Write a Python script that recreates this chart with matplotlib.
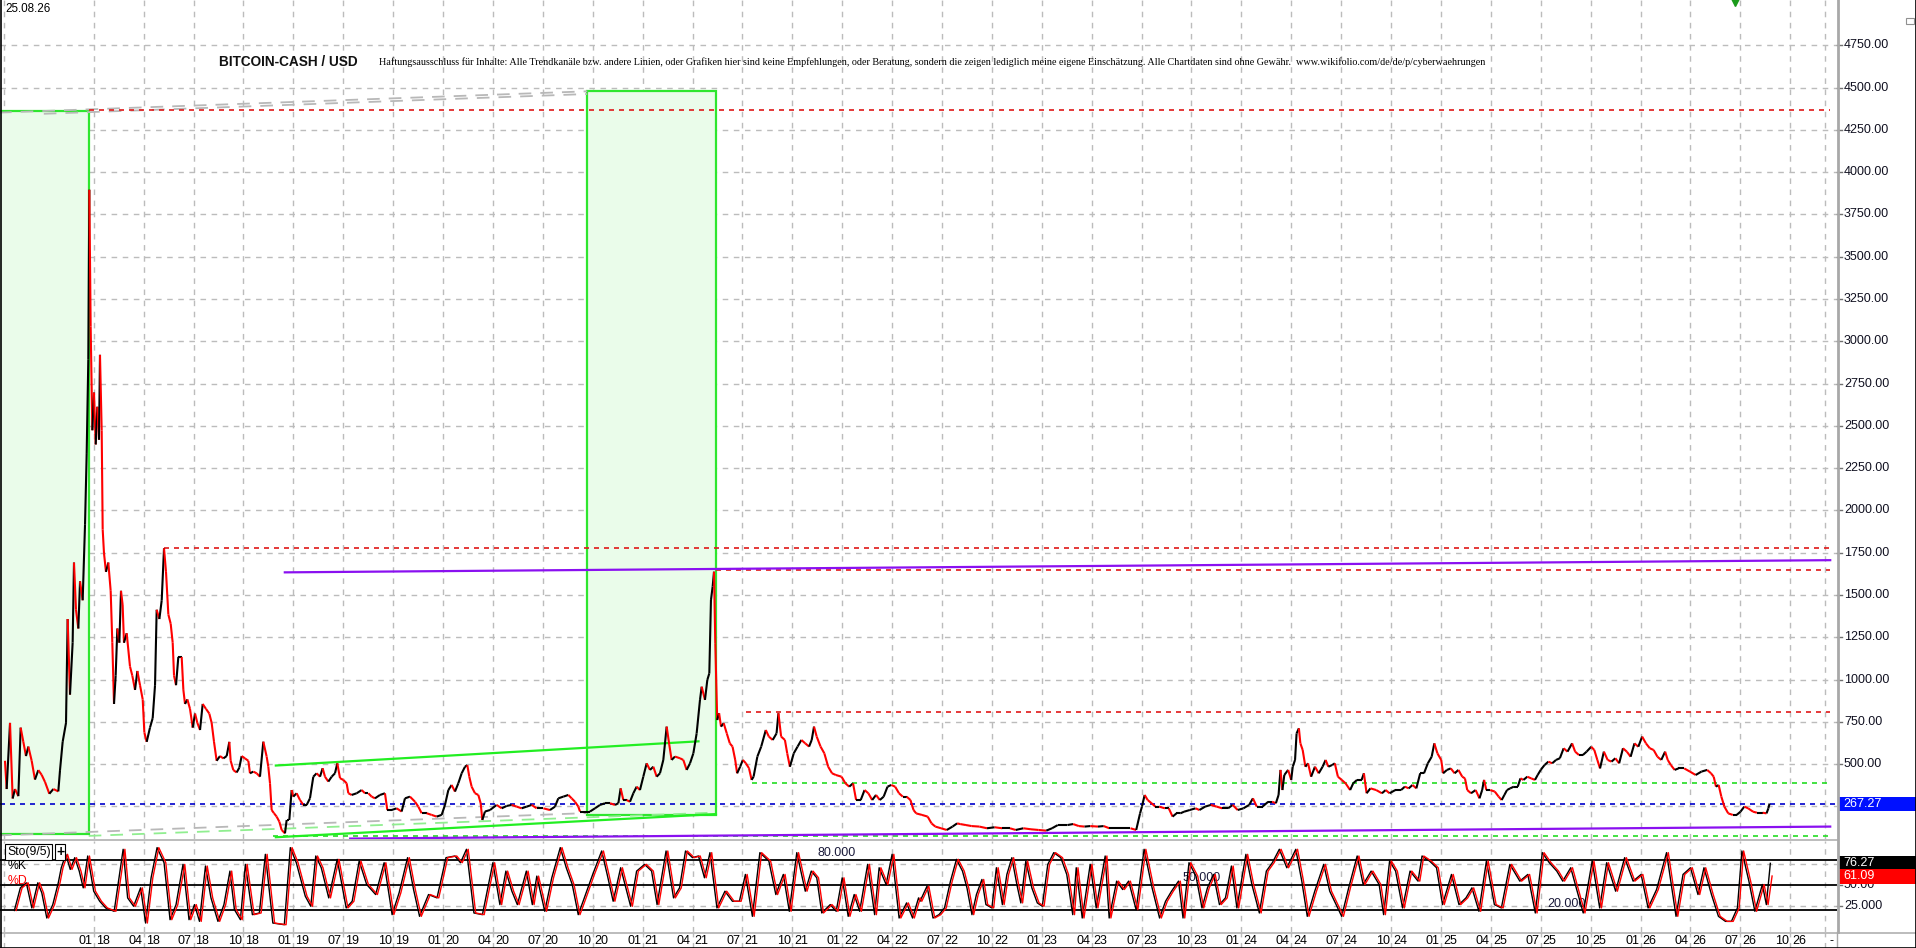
import numpy as np
import matplotlib
matplotlib.use("Agg")
import matplotlib.pyplot as plt
from matplotlib.collections import LineCollection
from matplotlib.patches import Rectangle
from matplotlib import font_manager
import matplotlib.transforms as mtransforms

plt.rcParams['font.family'] = ['Liberation Sans', 'DejaVu Sans']

# ======================= DATA =======================
# x unit: quarter-tick index (0 = "01 18"); the chart skips "04 19"
quarter_labels = ["01 18", "04 18", "07 18", "10 18", "01 19", "07 19", "10 19",
                  "01 20", "04 20", "07 20", "10 20", "01 21", "04 21", "07 21",
                  "10 21", "01 22", "04 22", "07 22", "10 22", "01 23", "04 23",
                  "07 23", "10 23", "01 24", "04 24", "07 24", "10 24", "01 25",
                  "04 25", "07 25", "10 25", "01 26", "04 26", "07 26", "10 26"]
extra_grid_t = [-1.8, 34.7]

price_t = [-1.778, -1.744, -1.677, -1.624, -1.577, -1.510, -1.464, -1.410, -1.357, -1.310,
           -1.243, -1.177, -1.110, -1.043, -0.976, -0.889, -0.809, -0.709, -0.675, -0.622,
           -0.555, -0.522, -0.475, -0.422, -0.395, -0.355, -0.308, -0.274, -0.221, -0.174,
           -0.141, -0.108, -0.088, -0.061, -0.027, 0.006, 0.040, 0.073, 0.106, 0.126,
           0.160, 0.180, 0.206, 0.246, 0.293, 0.340, 0.373, 0.407, 0.440, 0.474,
           0.514, 0.547, 0.580, 0.607, 0.661, 0.727, 0.774, 0.828, 0.875, 0.928,
           0.982, 1.015, 1.062, 1.128, 1.182, 1.229, 1.262, 1.316, 1.363, 1.409,
           1.449, 1.496, 1.543, 1.583, 1.610, 1.650, 1.696, 1.763, 1.797, 1.830,
           1.877, 1.930, 1.984, 2.031, 2.077, 2.131, 2.184, 2.250, 2.317, 2.364,
           2.411, 2.464, 2.531, 2.598, 2.665, 2.718, 2.745, 2.798, 2.865, 2.918,
           2.965, 3.032, 3.099,
           3.132, 3.199, 3.266, 3.332, 3.399, 3.466, 3.499, 3.533, 3.566, 3.613,
           3.666, 3.720, 3.767, 3.833, 3.867, 3.920, 3.967, 4.000, 4.067, 4.134,
           4.201, 4.268, 4.334, 4.401, 4.468, 4.535, 4.588, 4.635, 4.702, 4.769,
           4.835, 4.882, 4.936, 5.002, 5.069, 5.103, 5.169, 5.270, 5.370, 5.437,
           5.503, 5.570, 5.637, 5.737, 5.837, 5.884, 5.971, 6.071, 6.171, 6.238,
           6.338, 6.439, 6.505, 6.572, 6.672, 6.773, 6.873, 6.973, 7.040, 7.107,
           7.173, 7.240, 7.307, 7.374, 7.441, 7.487, 7.527, 7.574, 7.641, 7.708,
           7.755, 7.788, 7.841, 7.942, 8.075, 8.176, 8.276, 8.376, 8.476, 8.576,
           8.677, 8.777, 8.877, 9.011, 9.144, 9.244, 9.311, 9.411, 9.512, 9.578,
           9.645, 9.712, 9.745, 9.845, 9.946, 10.046, 10.146, 10.246, 10.346, 10.447,
           10.514, 10.560, 10.614, 10.680, 10.747, 10.814, 10.881, 10.947, 11.014, 11.081,
           11.148, 11.215, 11.282, 11.348, 11.415, 11.482, 11.535, 11.582, 11.649, 11.749,
           11.816, 11.883, 11.950, 12.017, 12.083, 12.150, 12.184, 12.250, 12.297, 12.337,
           12.370, 12.404, 12.431, 12.457,
           12.495, 12.533, 12.572, 12.625, 12.687, 12.748, 12.802, 12.856, 12.894, 12.955,
           13.009, 13.070, 13.132, 13.185, 13.224, 13.300, 13.377, 13.469, 13.530, 13.607,
           13.684, 13.722, 13.776, 13.852, 13.898, 13.952, 14.029, 14.106, 14.182, 14.259,
           14.336, 14.389, 14.435, 14.489, 14.566, 14.642, 14.719, 14.796, 14.872, 14.987,
           15.064, 15.141, 15.217, 15.279, 15.371, 15.448, 15.524, 15.601, 15.678, 15.754,
           15.831, 15.908, 15.984, 16.061, 16.138, 16.214, 16.291, 16.368, 16.429, 16.483,
           16.598, 16.713, 16.790, 16.866, 16.981, 17.096, 17.211, 17.303, 17.365, 17.480,
           17.595, 17.748, 17.902, 18.055, 18.208, 18.362, 18.477, 18.630, 18.783, 18.937,
           19.090, 19.205, 19.320, 19.512, 19.627, 19.742, 19.857, 19.972, 20.126, 20.240,
           20.355, 20.509, 20.662, 20.777, 20.892, 20.969, 21.007, 21.061, 21.122, 21.199,
           21.276, 21.352, 21.467, 21.544, 21.621, 21.698, 21.774, 21.851, 21.966, 22.081,
           22.158, 22.273, 22.388, 22.503, 22.618, 22.733, 22.825, 22.925, 23.040, 23.155,
           23.231, 23.308, 23.423, 23.538, 23.615, 23.691,
           23.745, 23.783, 23.822, 23.860, 23.937, 23.998, 24.029, 24.075, 24.106, 24.152,
           24.182, 24.228, 24.282, 24.336, 24.397, 24.474, 24.550, 24.627, 24.688, 24.742,
           24.819, 24.872, 24.934, 25.010, 25.087, 25.179, 25.241, 25.317, 25.409, 25.455,
           25.509, 25.586, 25.701, 25.816, 25.892, 25.969, 26.084, 26.199, 26.276, 26.353,
           26.429, 26.506, 26.583, 26.659, 26.736, 26.813, 26.866, 26.928, 27.004, 27.043,
           27.119, 27.196, 27.273, 27.349, 27.426, 27.480, 27.526, 27.602, 27.694, 27.771,
           27.825, 27.863, 27.909, 27.986, 28.078, 28.155, 28.216, 28.270, 28.323, 28.385,
           28.461, 28.538, 28.592, 28.653, 28.730, 28.807, 28.883, 28.937, 28.998, 29.075,
           29.152, 29.228, 29.305, 29.382, 29.458, 29.535, 29.627, 29.688, 29.765, 29.842,
           29.918, 30.010, 30.072, 30.133, 30.187, 30.264, 30.340, 30.417, 30.494, 30.570,
           30.647, 30.724, 30.800, 30.877, 30.954, 31.031, 31.107, 31.184, 31.261, 31.337,
           31.414, 31.491, 31.544, 31.606, 31.682, 31.759, 31.874, 31.989, 32.104, 32.219,
           32.334, 32.411, 32.465, 32.511, 32.564, 32.618, 32.679, 32.756, 32.848, 32.925,
           33.001, 33.078, 33.155, 33.254, 33.331, 33.446, 33.523, 33.561, 33.584]
price_v = [520, 353, 744, 297, 353, 311, 716, 632, 548, 604,
           520, 409, 465, 437, 395, 325, 353, 339, 465, 632,
           744, 1358, 911, 1218, 1692, 1413, 1302, 1581, 1469, 1915,
           2334, 2892, 3896, 3087, 2474, 2697, 2390, 2613, 2418, 2920,
           2474, 1888, 1748, 1637, 1692, 1525, 1218, 856, 1023, 1302,
           1218, 1525, 1441, 1218, 1274, 1078, 1023, 939, 1051, 967,
           883, 688, 632, 716, 772, 967, 1413, 1358, 1469, 1776,
           1637, 1385, 1330, 1218, 1023, 967, 1134, 1134, 939, 856,
           883, 827, 716, 799, 744, 702, 856, 827, 799, 744,
           632, 520, 548, 534, 548, 632, 520, 465, 451, 479,
           548, 534, 520,
           446, 456, 446, 426, 633, 545, 485, 387, 229, 210,
           190, 160, 111, 91, 170, 170, 347, 308, 328, 288,
           259, 259, 298, 426, 446, 426, 476, 426, 397, 426,
           446, 505, 417, 407, 387, 328, 318, 328, 347, 328,
           328, 308, 298, 318, 328, 229, 229, 239, 220, 298,
           308, 278, 249, 210, 210, 200, 190, 200, 259, 347,
           377, 338, 387, 446, 485, 495, 426, 367, 328, 318,
           269, 170, 220, 229, 259, 239, 253, 259, 249, 239,
           249, 259, 239, 239, 229, 249, 298, 308, 318, 298,
           278, 249, 220, 220, 220, 239, 259, 269, 269, 259,
           269, 357, 288, 288, 278, 328, 367, 347, 426, 505,
           466, 485, 426, 446, 525, 722, 614, 525, 545, 535,
           525, 466, 505, 564, 682, 880, 958, 880, 998, 1037,
           1471, 1550, 1638, 1215,
           761, 801, 722, 742, 682, 623, 604, 525, 446, 485,
           525, 505, 476, 407, 426, 545, 604, 702, 663, 643,
           682, 801, 663, 643, 564, 485, 564, 604, 643, 623,
           604, 643, 722, 663, 604, 564, 485, 446, 436, 426,
           387, 367, 387, 288, 288, 347, 328, 288, 318, 288,
           308, 367, 377, 367, 328, 308, 308, 288, 229, 209,
           200, 190, 150, 131, 121, 111, 131, 150, 146, 140,
           134, 131, 121, 127, 121, 121, 111, 121, 115, 111,
           107, 121, 140, 140, 146, 134, 131, 134, 131, 134,
           121, 121, 121, 121, 111, 209, 249, 318, 288, 269,
           249, 249, 239, 239, 190, 209, 209, 219, 229, 239,
           229, 249, 259, 249, 239, 239, 259, 229, 239, 259,
           298, 249, 249, 278, 278, 269,
           318, 466, 347, 436, 466, 407, 485, 525, 682, 712,
           623, 584, 485, 505, 426, 485, 446, 485, 525, 485,
           495, 505, 426, 407, 387, 347, 387, 407, 407, 446,
           328, 357, 347, 328, 347, 328, 347, 347, 367, 357,
           377, 357, 446, 446, 505, 544, 623, 564, 525, 446,
           466, 475, 446, 466, 426, 416, 347, 328, 347, 298,
           347, 407, 347, 347, 338, 308, 288, 318, 347, 357,
           367, 367, 416, 407, 426, 416, 407, 436, 466, 495,
           515, 505, 525, 535, 594, 574, 623, 574, 554, 554,
           574, 603, 584, 525, 475, 574, 525, 515, 535, 505,
           594, 574, 544, 623, 603, 663, 623, 594, 584, 544,
           525, 574, 525, 495, 466, 475, 475, 456, 436, 456,
           466, 446, 426, 367, 377, 308, 249, 209, 200, 200,
           219, 249, 239, 219, 213, 213, 209, 239, 267.27]

stoch_t = [-1.59, -1.47, -1.35, -1.24, -1.12, -1.04, -0.94, -0.82, -0.71, -0.65,
           -0.56, -0.47, -0.38, -0.29, -0.21, -0.12, 0.00, 0.12, 0.24, 0.41,
           0.59, 0.68, 0.80, 0.94, 1.04, 1.15, 1.27, 1.41, 1.53, 1.65,
           1.79, 1.91, 2.02, 2.12, 2.24, 2.35, 2.49, 2.61, 2.73, 2.82,
           2.94, 3.04, 3.18, 3.32, 3.44, 3.59, 3.82, 3.94, 4.06, 4.24,
           4.35, 4.45, 4.56, 4.71, 4.88, 5.06, 5.18, 5.32, 5.47, 5.65,
           5.82, 5.98, 6.12, 6.29, 6.41, 6.53, 6.71, 6.88, 7.06, 7.24,
           7.35, 7.47, 7.62, 7.79, 8.00, 8.14, 8.26, 8.38, 8.49, 8.67,
           8.79, 8.88, 9.04, 9.18, 9.35, 9.47, 9.59, 9.71, 9.82, 10.00,
           10.18, 10.29, 10.41, 10.56, 10.76, 10.88, 11.04, 11.18, 11.29, 11.47,
           11.62, 11.74, 11.86, 12.00, 12.12, 12.24, 12.35, 12.49, 12.65, 12.80,
           12.94, 13.06, 13.20, 13.35, 13.53, 13.67, 13.82, 13.94, 14.09, 14.26,
           14.38, 14.49, 14.59, 14.76, 14.88, 15.00, 15.12, 15.24, 15.35, 15.51,
           15.65, 15.74, 15.88, 16.00, 16.14, 16.29, 16.41, 16.53,
           16.56, 16.70, 16.82, 16.94, 17.05, 17.17, 17.29, 17.41, 17.50, 17.60,
           17.69, 17.80, 17.88, 18.00, 18.09, 18.21, 18.30, 18.40, 18.50, 18.58,
           18.68, 18.80, 18.91, 19.01, 19.12, 19.24, 19.38, 19.50, 19.62, 19.69,
           19.81, 19.97, 20.09, 20.27, 20.35, 20.50, 20.62, 20.74, 20.89, 21.05,
           21.21, 21.36, 21.48, 21.60, 21.74, 21.83, 21.95, 22.09, 22.21, 22.32,
           22.44, 22.56, 22.68, 22.80, 22.91, 23.09, 23.21, 23.36, 23.50, 23.62,
           23.76, 23.91, 24.09, 24.21, 24.32, 24.47, 24.65, 24.77, 25.01, 25.15,
           25.32, 25.44, 25.60, 25.76, 25.85, 25.97, 26.09, 26.23, 26.38, 26.54,
           26.62, 26.77, 26.91, 27.03, 27.21, 27.36, 27.50, 27.62, 27.76, 27.91,
           28.07, 28.21, 28.38, 28.58, 28.74, 28.89, 29.03, 29.17, 29.32, 29.44,
           29.60, 29.71, 29.85, 30.03, 30.18, 30.32, 30.50, 30.68, 30.85, 31.01,
           31.15, 31.32, 31.52, 31.71, 31.85, 32.00, 32.15, 32.27, 32.42, 32.56,
           32.70, 32.82, 32.94, 33.03, 33.17, 33.29, 33.44, 33.52, 33.60]
stoch_k = [20, 47, 53, 23, 53, 41, 11, 27, 53, 71,
           87, 69, 83, 67, 47, 85, 43, 31, 23, 19,
           93, 35, 25, 47, 5, 59, 95, 77, 9, 27,
           75, 9, 27, 7, 73, 35, 7, 27, 67, 21,
           9, 75, 15, 17, 87, 5, 3, 95, 77, 37,
           25, 85, 71, 35, 81, 23, 31, 79, 51, 39,
           77, 15, 41, 83, 45, 13, 39, 35, 83, 85,
           77, 93, 17, 15, 77, 27, 67, 43, 27, 67,
           27, 61, 19, 59, 95, 71, 51, 15, 33, 63,
           91, 63, 31, 71, 25, 67, 75, 67, 27, 91,
           35, 47, 91, 83, 85, 59, 89, 23, 43, 31,
           31, 63, 13, 89, 79, 39, 63, 19, 89, 43,
           67, 59, 17, 27, 19, 59, 13, 39, 19, 75,
           15, 71, 51, 87, 11, 29, 11, 35,
           31, 49, 11, 15, 23, 55, 81, 67, 47, 15,
           39, 57, 27, 23, 71, 27, 63, 83, 51, 29,
           79, 47, 29, 25, 75, 89, 83, 63, 15, 71,
           11, 75, 23, 85, 11, 55, 45, 55, 21, 93,
           47, 11, 31, 43, 55, 11, 77, 61, 23, 47,
           63, 27, 35, 73, 23, 87, 51, 17, 67, 77,
           93, 71, 93, 55, 13, 43, 75, 43, 13, 47,
           85, 51, 67, 51, 15, 79, 67, 23, 67, 55,
           85, 79, 71, 27, 63, 27, 35, 47, 19, 79,
           27, 23, 75, 55, 63, 17, 89, 77, 67, 55,
           71, 47, 17, 79, 23, 77, 43, 83, 55, 63,
           23, 45, 89, 13, 63, 71, 39, 71, 39, 13,
           7, 7, 23, 91, 55, 19, 51, 27, 76.27]
# %D tracks %K with a short lag; its last reading is 61.09
last_k = 76.27
last_d = 61.09
stoch_d = stoch_k[:-1] + [last_d]
D_LAG = 0.035

last_price = 267.27
price_ticks = [500, 750, 1000, 1250, 1500, 1750, 2000, 2250, 2500, 2750, 3000,
               3250, 3500, 3750, 4000, 4250, 4500, 4750]
price_grid = [250] + price_ticks

# drawn studies (trend lines, levels, boxes) in (t, price)
red_level_start = [-0.09, 1.40, 12.47, 13.07]
red_level_value = [4365, 1780, 1648, 810]
green_level_start = [13.19, 3.60]
green_level_value = [387, 74]
purple_t = [[3.83, 34.8], [5.14, 34.8]]
purple_v = [[1634, 1706], [60, 131]]
channel_t = [[3.65, 12.12], [3.65, 12.47]]
channel_v = [[492, 635], [68, 205]]
gray_trend_t = [[-1.9, 9.89], [-1.0, 9.89], [-1.9, 9.89]]
gray_trend_v = [[4352, 4478], [4345, 4462], [79, 211]]
lightgreen_trend_t = [[-0.1, 12.3]]
lightgreen_trend_v = [[76, 212]]
box_t0 = [-2.2, 9.89]
box_t1 = [-0.10, 12.47]
box_v0 = [88, 198]
box_v1 = [4360, 4478]
LEVEL_END = 34.8

stoch_lines = [20, 50, 80]
stoch_grid = [25, 75]

# ======================= LAYOUT =======================
W, H, DPI = 1916, 948, 100
PX0, PXQ = 93.7, 49.9          # pixel of tick 0 and pixels per quarter
AXR = 1837
T0 = (0 - PX0) / PXQ
T1 = (AXR - PX0) / PXQ
YMIN, YMAX = 57.6, 5017.8
SMIN, SMAX = -5.7, 102.9
FS = 9.0

fig = plt.figure(figsize=(W / DPI, H / DPI), dpi=DPI)
fig.patch.set_facecolor('white')

def fx(px):
    return px / W

def fy(py):
    return 1 - py / H

ax = fig.add_axes([0, fy(839), fx(AXR), fy(0) - fy(839)])
axs = fig.add_axes([0, fy(932), fx(AXR), fy(841) - fy(932)])
axl = fig.add_axes([0, 0, fx(AXR), fy(933)])

for a in (ax, axs, axl):
    a.set_xlim(T0, T1)
    a.set_xticks([])
    a.set_yticks([])
    for s in a.spines.values():
        s.set_visible(False)
    a.patch.set_alpha(0)
ax.set_ylim(YMIN, YMAX)
axs.set_ylim(SMIN, SMAX)
axl.set_ylim(0, 1)

GRID = '#bcbcbc'
grid_t = [extra_grid_t[0]] + list(range(len(quarter_labels))) + [extra_grid_t[1]]
for a in (ax, axs):
    for t in grid_t:
        a.axvline(t, color=GRID, lw=1.0, ls=(0, (4, 4)), zorder=0)
for v in price_grid:
    ax.axhline(v, color=GRID, lw=1.0, ls=(0, (4, 4)), zorder=0)

# boxes
for t0, t1, v0, v1 in zip(box_t0, box_t1, box_v0, box_v1):
    ax.add_patch(Rectangle((t0, v0), t1 - t0, v1 - v0, facecolor='#eafcea',
                           edgecolor='#2ee62e', lw=1.6, zorder=1))

# gray / light green dashed trend lines
for tt, vv in zip(gray_trend_t, gray_trend_v):
    ax.plot(tt, vv, color='#b8b8b8', lw=1.3, ls=(0, (7, 5)), zorder=2)
for tt, vv in zip(lightgreen_trend_t, lightgreen_trend_v):
    ax.plot(tt, vv, color='#90ee90', lw=1.3, ls=(0, (7, 5)), zorder=2)

# horizontal levels
for t0, v in zip(red_level_start, red_level_value):
    ax.plot([t0, LEVEL_END], [v, v], color='#e01818', lw=1.2, ls=(0, (3, 3)), zorder=3)
for t0, v in zip(green_level_start, green_level_value):
    ax.plot([t0, LEVEL_END], [v, v], color='#22dd22', lw=1.2, ls=(0, (3, 3)), zorder=3)
ax.plot([T0, T1], [last_price, last_price], color='#0000cc', lw=1.2, ls=(0, (3, 3)), zorder=3)

# channels
for tt, vv in zip(channel_t, channel_v):
    ax.plot(tt, vv, color='#22ee22', lw=1.6, zorder=3)
for tt, vv in zip(purple_t, purple_v):
    ax.plot(tt, vv, color='#8a10f0', lw=1.6, zorder=3)

# price line (black up, red down)
pt = np.array(price_t)
pv = np.array(price_v, dtype=float)
segs = np.stack([np.column_stack([pt[:-1], pv[:-1]]), np.column_stack([pt[1:], pv[1:]])], axis=1)
cols = ['#ff0000' if b < a else '#000000' for a, b in zip(pv[:-1], pv[1:])]
ax.add_collection(LineCollection(segs, colors=cols, linewidths=1.5, zorder=5))

# stochastic
for v in stoch_grid:
    axs.axhline(v, color=GRID, lw=1.0, ls=(0, (4, 4)), zorder=0)
for v in stoch_lines:
    axs.axhline(v, color='black', lw=1.3, zorder=1)
axs.plot(stoch_t, stoch_k, color='black', lw=1.0, zorder=3)
axs.plot(np.array(stoch_t) + D_LAG, stoch_d, color='#ff0000', lw=1.0, zorder=4)
LBLC = '#1a1a3a'
axs.text(14.50, 81.5, '80.000', fontsize=FS, color=LBLC, va='bottom', ha='left', zorder=2)
axs.text(21.81, 51.5, '50.000', fontsize=FS, color=LBLC, va='bottom', ha='left', zorder=2)
axs.text(29.14, 21.0, '20.000', fontsize=FS, color=LBLC, va='bottom', ha='left', zorder=2)

# panel separators / frame (figure pixel coordinates)
def fline(x0, y0, x1, y1, color, lw):
    fig.add_artist(plt.Line2D([fx(x0), fx(x1)], [fy(y0), fy(y1)], color=color, lw=lw,
                              transform=fig.transFigure))

fline(0, 839.5, AXR, 839.5, '#b0b0b0', 1.2)
fline(0, 932.5, 1916, 932.5, '#b0b0b0', 1.2)
fline(AXR + 1, 0, AXR + 1, 932, '#a8a8a8', 2.0)
fline(AXR, 932, AXR, 948, '#a8a8a8', 1.0)
fline(0.5, 0, 0.5, 948, 'black', 1.2)
fline(1915.5, 0, 1915.5, 948, 'black', 1.2)
fline(0, 947.5, 1916, 947.5, 'black', 1.2)

# right price axis
ytr = mtransforms.blended_transform_factory(ax.transAxes, ax.transData)
for v in price_ticks:
    ax.plot([1.0, 1.0 + 5 / AXR], [v, v], color='#707070', lw=1, transform=ytr, clip_on=False)
    ax.text(1.0 + 7 / AXR, v, f'{v:.2f}', transform=ytr, fontsize=FS, color='#101020',
            va='center', ha='left', clip_on=False)
PXP = (YMAX - YMIN) / 839.0
ax.add_patch(Rectangle((1.0 + 1 / AXR, last_price - 7 * PXP), 78 / AXR, 14 * PXP,
                       transform=ytr, facecolor='#0010ff', edgecolor='none', clip_on=False))
ax.text(1.0 + 6 / AXR, last_price, f'{last_price:.2f}', transform=ytr, fontsize=FS,
        color='white', va='center', ha='left', clip_on=False)

# right stoch axis
str_ = mtransforms.blended_transform_factory(axs.transAxes, axs.transData)
SPX = (SMAX - SMIN) / 91.0
for v, s in ((25, '25.000'), (50, '50.00')):
    axs.plot([1.0, 1.0 + 5 / AXR], [v, v], color='#707070', lw=1, transform=str_, clip_on=False)
    axs.text(1.0 + 7 / AXR, v, s, transform=str_, fontsize=FS, color='#101020',
             va='center', ha='left', clip_on=False)
for v, fc in ((last_k, 'black'), (last_d, '#ff0000')):
    axs.add_patch(Rectangle((1.0 + 1 / AXR, v - 7.5 * SPX), 78 / AXR, 15 * SPX, transform=str_,
                            facecolor=fc, edgecolor='none', clip_on=False, zorder=6))
    axs.text(1.0 + 6 / AXR, v, f'{v:.2f}', transform=str_, fontsize=FS, color='white',
             va='center', ha='left', clip_on=False, zorder=7)

# x labels
for i, lab in enumerate(quarter_labels):
    m, y = lab.split()
    axl.text(i - 1.5 / PXQ, 0.45, m, fontsize=FS, ha='right', va='center', color='black')
    axl.text(i + 2.0 / PXQ, 0.45, y, fontsize=FS, ha='left', va='center', color='black')
for t in grid_t:
    axl.axvline(t, color=GRID, lw=1.0, ls=(0, (4, 4)))
fig.text(fx(1829), fy(941), '-', fontsize=FS, ha='left', va='center')

# header texts
renderer = fig.canvas.get_renderer()

def fit(txt, width_px):
    bb = txt.get_window_extent(renderer=renderer)
    txt.set_fontsize(txt.get_fontsize() * width_px / bb.width)

t_date = fig.text(fx(5), fy(9), '25.08.26', fontsize=9, ha='left', va='center', color='black')
fit(t_date, 45)
t_title = fig.text(fx(219), fy(62), 'BITCOIN-CASH / USD', fontsize=10, fontweight='bold',
                   ha='left', va='center', color='#111111')
fit(t_title, 139)
names = {f.name for f in font_manager.fontManager.ttflist}
disc_font = 'Liberation Sans Narrow' if 'Liberation Sans Narrow' in names else 'Liberation Serif'
disclaimer = ("Haftungsausschluss für Inhalte: Alle Trendkanäle bzw. andere Linien, oder Grafiken "
              "hier sind keine Empfehlungen, oder Beratung, sondern die zeigen lediglich meine "
              "eigene Einschätzung. Alle Chartdaten sind ohne Gewähr.  "
              "www.wikifolio.com/de/de/p/cyberwaehrungen")
t_disc = fig.text(fx(379), fy(62), disclaimer, fontsize=8, family=[disc_font, 'DejaVu Sans'],
                  ha='left', va='center', color='black')
fit(t_disc, 1102)

# stoch legend
fig.text(fx(7), fy(852), 'Sto(9/5)', fontsize=8.8, ha='left', va='center', color='black',
         bbox=dict(boxstyle='square,pad=0.15', fc='white', ec='black', lw=0.8))
fig.text(fx(56), fy(852), '+', fontsize=10, fontweight='bold', ha='left', va='center',
         color='black', bbox=dict(boxstyle='square,pad=0.05', fc='white', ec='black', lw=0.8))
fig.text(fx(8), fy(866), '%K', fontsize=8.8, ha='left', va='center', color='black')
fig.text(fx(8), fy(881), '%D', fontsize=8.8, ha='left', va='center', color='#ff0000')

# small top markers
fig.add_artist(plt.Line2D([fx(1735)], [fy(2)], marker='v', markersize=6, color='#1a9a1a',
                          transform=fig.transFigure))
fig.add_artist(Rectangle((fx(1906), fy(24)), fx(8), fy(18) - fy(24), transform=fig.transFigure,
                         facecolor='white', edgecolor='#909090', lw=0.8))

fig.savefig('out.png', dpi=DPI, facecolor='white')
